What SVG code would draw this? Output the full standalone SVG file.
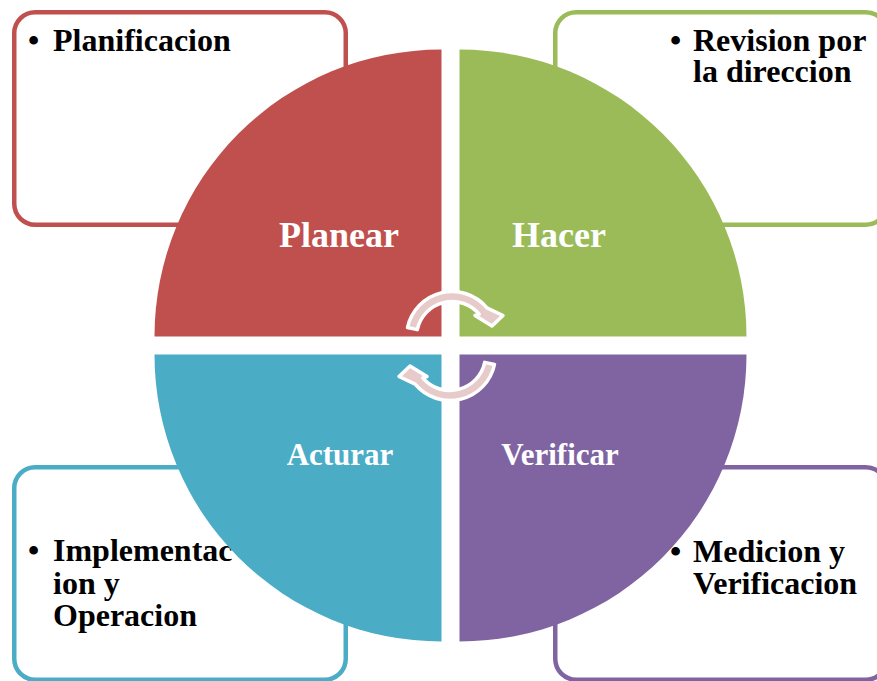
<svg xmlns="http://www.w3.org/2000/svg" width="877" height="681" viewBox="0 0 877 681">
<style>
.box{fill:#FFFFFF;stroke-width:4.5}
.txt{font-family:"Liberation Serif","Times New Roman",serif;font-weight:bold;font-size:32px;fill:#000000}
.lbl{font-family:"Liberation Serif","Times New Roman",serif;font-weight:bold;fill:#FFFFFF;text-anchor:middle}
.arr{fill:#E7CBCB;stroke:#FFFFFF;stroke-width:3.5;stroke-linejoin:round}
</style>
<defs>
<path id="carrow" d="M407.5,327.5 A45.5,45.5 0 0 1 486.9,307.8 L503,315.5 L492,326 L475,315.5 L479.2,314.2 A35.5,35.5 0 0 0 417.3,329.6 Z"/>
</defs>
<rect width="877" height="681" fill="#FFFFFF"/>
<g id="box-planificacion">
<rect class="box" x="14.25" y="12.25" width="331.5" height="212.5" rx="21" stroke="#C0504D"/>
<text class="txt" y="51"><tspan x="28">•</tspan><tspan x="53">Planificacion</tspan></text>
</g>
<g id="box-revision">
<rect class="box" x="555.25" y="12.25" width="331.5" height="212.5" rx="21" stroke="#9BBB59"/>
<text class="txt" y="51"><tspan x="670">•</tspan><tspan x="693">Revision por</tspan><tspan x="693" y="82">la direccion</tspan></text>
</g>
<g id="box-implementacion">
<rect class="box" x="14.25" y="467.25" width="331.5" height="212.5" rx="21" stroke="#4BACC6"/>
<text class="txt" y="561"><tspan x="28">•</tspan><tspan x="53">Implementac</tspan><tspan x="53" y="594">ion y</tspan><tspan x="53" y="626">Operacion</tspan></text>
</g>
<g id="box-medicion">
<rect class="box" x="555.25" y="467.25" width="331.5" height="212.5" rx="21" stroke="#8064A2"/>
<text class="txt" y="562"><tspan x="670">•</tspan><tspan x="693">Medicion y</tspan><tspan x="693" y="594">Verificacion</tspan></text>
</g>
<g id="q-planear">
<path d="M441.5,336.5 L154.5,336.5 A287,287 0 0 1 441.5,49.5 Z" fill="#C0504D"/>
<text class="lbl" x="339" y="247" font-size="36">Planear</text>
</g>
<g id="q-hacer">
<path d="M459.5,336.5 L459.5,49.5 A287,287 0 0 1 746.5,336.5 Z" fill="#9BBB59"/>
<text class="lbl" x="559" y="247" font-size="36">Hacer</text>
</g>
<g id="q-acturar">
<path d="M441.5,354.5 L441.5,641.5 A287,287 0 0 1 154.5,354.5 Z" fill="#4BACC6"/>
<text class="lbl" x="340" y="465" font-size="31">Acturar</text>
</g>
<g id="q-verificar">
<path d="M459.5,354.5 L746.5,354.5 A287,287 0 0 1 459.5,641.5 Z" fill="#8064A2"/>
<text class="lbl" x="560" y="465" font-size="31">Verificar</text>
</g>
<g id="connectors">
<use href="#carrow" class="arr"/>
<use href="#carrow" class="arr" transform="rotate(180 451 346)"/>
</g>
</svg>
